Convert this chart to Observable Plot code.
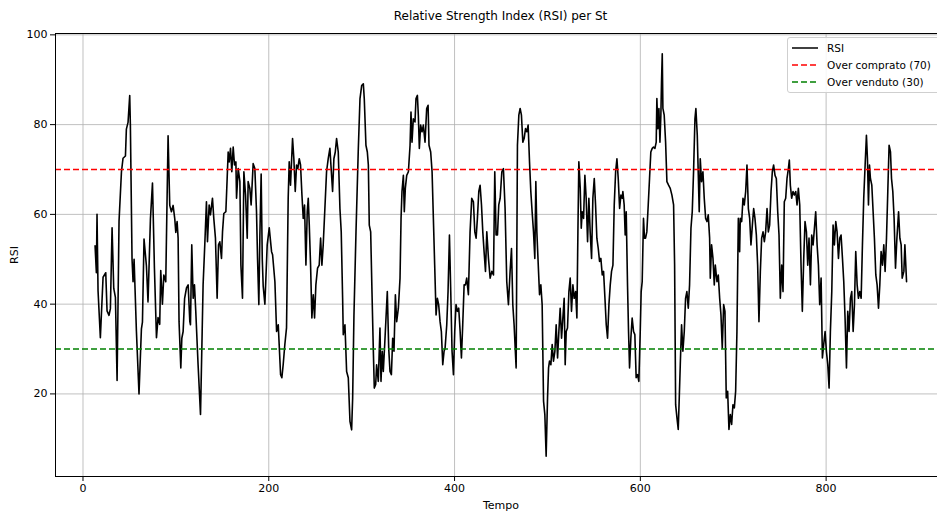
<!DOCTYPE html>
<html><head><meta charset="utf-8">
<script src="https://cdn.jsdelivr.net/npm/d3@7"></script>
<script src="https://cdn.jsdelivr.net/npm/@observablehq/plot@0.6"></script>
<style>
body{margin:0;background:#fff;font-family:"DejaVu Sans",sans-serif;}
#wrap{position:relative;width:937px;height:511px;overflow:hidden;background:#fff;}
#chart{position:absolute;left:0;top:0;width:960px;}
#chart svg{max-width:none !important;width:960px;height:511px;}
#title{position:absolute;top:9px;left:0;width:1001px;text-align:center;font-size:12px;color:#000;white-space:nowrap;}
#legend{position:absolute;left:787px;top:37px;width:170px;height:54px;border:1px solid #cfcfcf;border-radius:3px;background:rgba(255,255,255,0.85);font-size:10.5px;}
.row{position:absolute;left:3px;height:16px;display:flex;align-items:center;white-space:nowrap;}
.row svg{margin-right:8px;}
</style></head>
<body><div id="wrap"><div id="chart"></div><div id="title"></div><div id="legend"></div></div>
<script>
const titolo = "Relative Strength Index (RSI) per St";
const tempo = [13,14.4,15.1,16.2,18.7,21.6,24.5,25.9,28,29.5,31.3,33.1,34.9,36.7,38.8,41.4,43.1,45.7,46.7,48.5,50.3,51,52.8,53.9,55,57.5,60.3,62.9,64,65.7,68.3,70,72.6,74.8,76.9,79.1,80.8,82.6,83.7,85.5,87,89.1,91.6,
93.4,95.2,97,98.8,99.9,101.3,102.4,103.4,105.3,106.4,107.8,109.4,111.4,113.2,115,115.7,117.1,118.6,120,121.4,123.9,126.5,128.3,129.3,131.1,132.9,134,135.8,137.2,139.4,140.8,142.6,144.4,145.9,147.3,149.1,150.2,151.6,153.8,155.2,156.3,157.4,158.8,160.2,161.7,163.1,164.6,165.3,167.1,168.9,170,171.7,173.2,175,176.8,177.8,179.6,181,183.2,185,186.8,187.9,189.3,190.4,191.8,193,194,195.8,
198.3,200.5,203,204.1,206.6,208.4,210.2,211.2,212.7,214.1,215.5,217.3,219.1,220.9,222,223.4,224.5,225.6,227,228.5,229.9,231.3,232.8,234.2,235.7,237.1,238.5,240,241.4,242.5,243.6,245,246.4,247.9,249.3,250.7,252.5,254.3,255.8,257.2,258.6,260.4,262.2,264,265.8,266.9,268.7,270.1,271.6,273,274.8,276.6,278,279.5,280.2,282,283.8,285.6,287.4,289.2,
290.3,291.7,293.9,296.4,298.2,300,301.8,302.8,304.6,306.1,307.2,308.2,309.7,311.1,312.5,313.6,315.1,316.1,317.9,319.7,320.8,322.2,323.3,324.8,326.2,327.6,329.1,330.5,332,333.4,334.8,336.3,337.7,339.5,341.3,342.4,343.4,344.9,345.9,347,348.5,350.3,352.1,353.1,354.2,355.6,357.4,358.5,360,361,362.1,363.5,365,366.4,368.2,370,371.5,372.5,374.3,375.8,377.2,378.6,380.1,381.5,382.9,384.4,385.8,387.3,388.7,389.8,
391.6,393,394.5,395.9,397.3,398.8,400.2,401.6,403.1,404.5,406,407.4,408.8,410.3,411.7,413.1,414.9,416.7,418.5,420.3,421.8,423.2,424.6,426.1,427.5,429,430.4,431.8,433.3,434.7,436.5,438.3,440.1,441.9,443.3,444.7,446.2,447.6,449.1,450.9,452.6,454.4,456.2,458,459.8,461.3,462.7,464.1,466.3,467.7,469.2,470.6,472,473.5,474.9,476.4,477.8,479.2,480.7,482.1,483.5,485,486.4,487.5,488.6,
490.4,491.5,492.9,494.3,495.8,497.2,498.6,500.1,501.2,502.2,503.7,505.1,506.5,508,509.4,510.9,512.3,513.7,515.2,516.6,518,519.1,520.2,521.6,523.1,524.5,525.9,527.4,528.8,530.3,531.7,532.8,533.8,535.3,536.4,537.4,538.9,540.3,541.7,543.2,544.6,546,547.5,548.9,550.4,551.8,553.2,554.7,556.1,557.5,559,560.4,561.9,563.3,564.7,566.2,567.6,569,570.5,571.9,573.4,574.8,576.2,577.7,579.1,580.5,
581.2,582.6,583.7,584.8,586.2,587.3,588.4,589.8,591.2,592.7,594.1,595.5,597,598.4,599.9,600.9,602,603.4,604.5,605.6,607,608.5,609.9,611.3,612.8,614.2,615.7,617.1,617.8,618.9,620,621.1,622.1,622.8,623.6,624.3,625.7,627.2,628.6,630.4,632.2,634,635.8,636.9,638,639.4,640.8,641.9,643,644.4,645.8,647.3,648.7,650.1,651.6,653,654.5,655.9,657.3,658.8,659.8,661.3,662.4,663.4,664.5,665.9,667.4,668.8,670.3,671.7,673.1,674.6,675.3,676.7,678.2,679.6,680.7,
682.5,683.9,685.4,686.8,688.2,689.7,691.1,692.5,694,695.4,696.9,698.3,699.7,701.2,702.6,704,705.5,706.9,707.6,709.1,710.5,711.9,713.4,714.8,716.3,717.7,719.1,720.6,722,723.4,724.9,726.3,727.7,729.2,730.6,732.1,733.5,734.9,736.4,737.8,739.2,740.7,742.1,743.5,745,746.4,747.9,749.3,750.7,752.2,753.6,755,756.5,757.9,759.4,760.4,761.5,762.9,764.4,765.8,767.3,768.7,770.1,771.6,773,774.4,775.9,777.3,
778.8,780.2,781.6,783.1,784.5,786,787.4,788.8,790.3,791.7,793.1,794.6,796,797.4,798.9,800.3,801.8,803.2,804.6,806.1,807.5,808.9,810.4,811.8,813.3,814.7,816.1,817.6,819,820.4,821.9,823.3,824.7,826.2,827.6,829.1,830.5,831.9,833.4,834.8,836.2,837.7,839.1,840.5,842,843.4,844.5,845.6,846.7,847.7,849.2,850.6,852,853.5,854.9,856.4,857.8,859.2,860.7,862.1,863.5,865,866.4,867.8,869.3,870.4,871.8,873.2,874.7,876.2,878,879.4,880.8,881.9,883.7,884.8,886.6];
const rsi = [53,47,60,43,32.5,46,47,38.5,37.5,39,57,43.5,41.5,23,58.5,69.5,72.5,73,79,80.5,86.5,80,50,45,50,34,20,34.5,36,54.5,48.5,40.5,59,67,48,32.5,37,35.5,47.5,40,46.5,45,77.5,
62,60.6,62,59,56,58.4,54.7,36.1,25.8,32.4,33.9,41.3,43.6,44.3,36.1,35.4,53.2,41.3,44.3,38.4,26.5,15.4,33.9,44.3,53.2,62.8,53.9,62.1,59.9,63.6,59.1,54.7,41.3,53.2,53.9,50.2,56.1,60.2,60.6,68,73.9,71.7,74.7,69.5,75,71,71.7,63.6,70.2,67.3,48.7,41.3,69.5,64.3,54.7,67.3,65.8,62.1,71.3,70.2,60.6,50.2,39.9,55,69,50,44,40,
53.2,57,51.7,51,45,33.9,35.4,31,24.3,23.6,26.5,31,34.7,63.6,71.7,66.5,71.7,76.9,72.4,65.1,71,70.2,72.4,71,64.3,59.1,62.1,48.7,60.6,63.6,57.6,48.7,36.9,42.1,36.9,44.3,48,48.7,54.7,48.7,53.2,61.3,69.5,72.4,74.7,71,65.1,72.4,73.9,76.9,73.9,61.3,56.1,41.3,33.2,35.4,25,23.6,13.9,12,
19.1,37.6,56.1,74.7,85.8,88.7,89.1,85.8,75.4,73.9,71,57.6,56.1,42.8,30.2,21.3,22.1,26.5,22.8,34.7,22.8,29.5,25,31,36.9,42.8,30.2,25,24.3,32.4,29.5,42.1,36.1,39.1,45.8,59.1,65.1,68.7,60.6,65.8,68.7,69.5,75.4,82.8,76.1,81.3,80.6,85.8,86.5,82.1,74.7,79.9,78.4,79.9,76.1,83.6,84.3,75.4,73.9,69.5,59.1,48.7,37.6,41.3,39.9,36.1,33.9,26.5,29.5,30.2,
35.4,42.8,55.4,42.8,29.5,24.3,33.9,39.9,38.4,39.1,33.9,28,35.4,44.3,44.3,45.8,42.1,56.1,63.6,62.8,56.1,54.7,59.1,65.1,66.5,62.1,56.1,51.7,47.3,56.1,50.2,45.8,47.3,46.5,69.5,55.4,55.4,62.1,63.6,69.5,70.2,61.3,45,39.9,47.3,52.4,39.9,35.4,25.8,75.4,82.1,83.6,82.1,76.1,76.9,79.1,78.4,79.9,71.7,65.1,60.6,56.1,50.2,67.3,56.1,
47.3,42.1,44.3,39.9,18.4,15.4,6.1,19.1,25.8,27.3,26.5,31,27.3,29.5,35.4,28,33.9,39.1,32.4,36.9,41.3,26.5,33.9,34.7,42.8,45.8,38.4,44.3,41.3,42.8,36.9,56.1,71.7,65.8,56.9,60.6,59.1,68.7,63.6,53.9,63.6,56.1,50.2,63.6,68,62.1,54.7,52.4,49.5,50.2,46.5,47.3,41.3,35.4,32.4,39.9,44.3,47.3,48.7,62.1,69.5,72.4,68,61.3,64.3,63.6,
65.1,62.1,55.4,60.6,44.3,33.9,25.8,32.4,36.9,33.9,33.2,23.6,24.3,22.8,33.9,42.8,45,59.1,54.7,54.7,56.1,62.1,68,73.9,74.7,75,74.7,76.1,85.8,79.1,83.6,76.1,82.1,89.5,95.8,83.6,82.1,76.1,67.3,66.5,65.8,64.3,62.1,48.7,17.6,14.7,12.1,19.1,26.5,35.4,29.5,33.9,41.3,42.8,39.1,44.3,56.9,60.6,69.5,81.3,83.6,77.6,68.7,60.6,72.4,67.3,69.5,63.6,59.1,58.4,59.9,54.7,45.8,53.2,50.2,44.3,48.7,
45,46.5,41.3,37.6,30.2,39.9,38.4,19.1,20.6,12.1,15.4,13.2,17.6,16.9,20.6,33.9,59.1,51.7,59.1,58.4,63.6,62.1,65.1,71,61.3,59.1,53.2,57.6,61.3,59.1,55.4,48.7,36.1,47.3,54.7,56.1,53.9,56.1,61.3,56.1,57.6,65.1,69.5,71,68.7,68,60.6,55.4,41.3,48.7,42.8,62.8,63.6,68,70.2,72.1,66.5,63.6,65.1,64.3,65.1,62.1,65.8,62.1,48.7,38.4,50.2,58.4,
56.1,48.7,54.7,44.3,55.4,53.2,56.9,60.6,53.2,48.7,39.9,45.8,28,31,33.9,29.5,26.5,21.3,33.9,42.8,57.6,53.2,58.4,56.1,50.2,54.7,55.4,50.2,45,36.9,25.8,38.4,33.9,41.3,42.8,33.9,39.9,51.7,44.3,41.3,42.8,41.3,53.2,63.6,71,77.6,72.4,62.1,71,68,66.5,60.6,54.7,46.5,44.3,39.1,44.3,51.7,48.7,53.2,47.3,54.7,65.1,75.4,73.9,68,65.1,59.1,48,54.7,60.6,54.7,53.2,45.8,47.3,53.2,45];
const soglie = [70, 30];
const serie = ["RSI", "Over comprato (70)", "Over venduto (30)"];
const colori = ["#000000", "#ff0000", "#008000"];
const xTicks = [0, 200, 400, 600, 800];
const yTicks = [20, 40, 60, 80, 100];

const dati = tempo.map((t, i) => ({t, v: rsi[i]}));
const W = 960;
const chart = Plot.plot({
  width: W, height: 511,
  marginLeft: 55, marginRight: W - 946, marginTop: 33, marginBottom: 35,
  style: {fontFamily: "DejaVu Sans, sans-serif", fontSize: "11px", color: "#000", background: "#fff", overflow: "visible", maxWidth: "none"},
  x: {domain: [-29.6, 929.6]},
  y: {domain: [1.6, 100.3]},
  marks: [
    Plot.gridX(xTicks, {stroke: "#b0b0b0", strokeOpacity: 1, strokeWidth: 0.8}),
    Plot.gridY(yTicks, {stroke: "#b0b0b0", strokeOpacity: 1, strokeWidth: 0.8}),
    Plot.line(dati, {x: "t", y: "v", stroke: colori[0], strokeWidth: 1.6}),
    Plot.ruleY([soglie[0]], {stroke: colori[1], strokeWidth: 1.5, strokeDasharray: "6,3"}),
    Plot.ruleY([soglie[1]], {stroke: colori[2], strokeWidth: 1.5, strokeDasharray: "6,3"}),
    Plot.frame({stroke: "#000", strokeWidth: 1}),
    Plot.axisX(xTicks, {tickSize: 5, tickPadding: 3, label: "Tempo", labelAnchor: "center", labelArrow: "none", labelOffset: 32}),
    Plot.axisY(yTicks, {tickSize: 5, tickPadding: 3, label: "RSI", labelAnchor: "center", labelArrow: "none", labelOffset: 45})
  ]
});
chart.style.maxWidth = "none";
document.getElementById("chart").appendChild(chart);
document.getElementById("title").textContent = titolo;
const leg = document.getElementById("legend");
serie.forEach((s, i) => {
  const row = document.createElement("div");
  row.className = "row";
  row.style.top = (2 + i * 17) + "px";
  const dash = i === 0 ? "" : 'stroke-dasharray="6,3"';
  row.innerHTML = `<svg width="28" height="10"><line x1="1" x2="27" y1="5" y2="5" stroke="${colori[i]}" stroke-width="1.5" ${dash}/></svg><span>${s}</span>`;
  leg.appendChild(row);
});
</script>
</body></html>
